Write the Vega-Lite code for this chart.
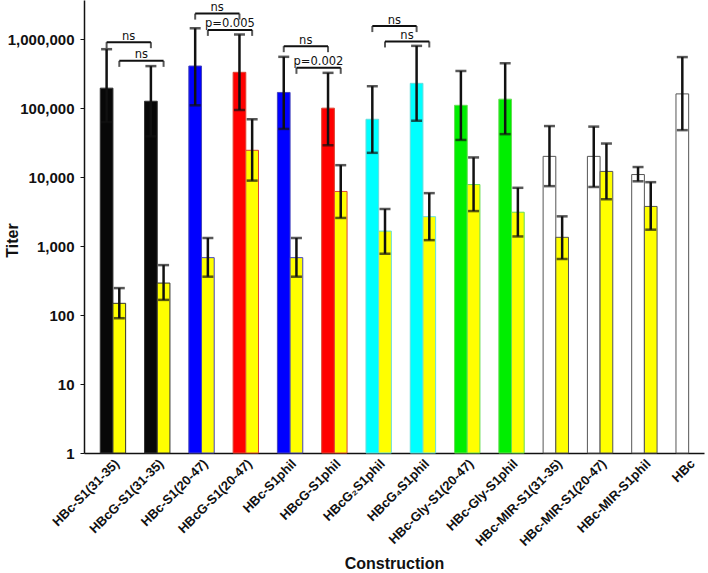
{
  "$schema": "https://vega.github.io/schema/vega-lite/v6.json",
  "width": 620,
  "height": 453,
  "autosize": "none",
  "padding": {"left": 84, "top": 0, "right": 4, "bottom": 120},
  "background": "white",
  "config": {
    "view": {"stroke": null},
    "axis": {"domainColor": "#111", "tickColor": "#111", "labelColor": "#111", "titleColor": "#111", "grid": false},
    "axisY": {
      "titleFont": "Liberation Sans",
      "titleFontSize": 16,
      "titleFontWeight": "bold",
      "titleX": -72,
      "titleY": 240,
      "titleAngle": -90,
      "titleAlign": "center",
      "titleBaseline": "middle",
      "labelFont": "Liberation Sans",
      "labelFontSize": 15,
      "labelFontWeight": "bold",
      "labelPadding": 6,
      "tickSize": 4,
      "domainWidth": 1.5
    }
  },
  "datasets": {
    "titers": [
      {"construction": "HBc-S1(31-35)", "family": "black", "series": "primary", "titer": 195000, "lo": 62700, "hi": 716000},
      {"construction": "HBc-S1(31-35)", "family": "black", "series": "secondary", "titer": 148, "lo": 90, "hi": 246},
      {"construction": "HBcG-S1(31-35)", "family": "black", "series": "primary", "titer": 126000, "lo": 39000, "hi": 407000},
      {"construction": "HBcG-S1(31-35)", "family": "black", "series": "secondary", "titer": 291, "lo": 166, "hi": 530},
      {"construction": "HBc-S1(20-47)", "family": "blue", "series": "primary", "titer": 408000, "lo": 110000, "hi": 1440000},
      {"construction": "HBc-S1(20-47)", "family": "blue", "series": "secondary", "titer": 680, "lo": 360, "hi": 1310},
      {"construction": "HBcG-S1(20-47)", "family": "red", "series": "primary", "titer": 331000, "lo": 94000, "hi": 1170000},
      {"construction": "HBcG-S1(20-47)", "family": "red", "series": "secondary", "titer": 24500, "lo": 8900, "hi": 69000},
      {"construction": "HBc-S1phil", "family": "blue", "series": "primary", "titer": 169000, "lo": 50000, "hi": 555000},
      {"construction": "HBc-S1phil", "family": "blue", "series": "secondary", "titer": 680, "lo": 360, "hi": 1310},
      {"construction": "HBcG-S1phil", "family": "red", "series": "primary", "titer": 100000, "lo": 29000, "hi": 325000},
      {"construction": "HBcG-S1phil", "family": "red", "series": "secondary", "titer": 6200, "lo": 2560, "hi": 14900},
      {"construction": "HBcG₂S1phil", "family": "cyan", "series": "primary", "titer": 69000, "lo": 22500, "hi": 208000},
      {"construction": "HBcG₂S1phil", "family": "cyan", "series": "secondary", "titer": 1650, "lo": 775, "hi": 3450},
      {"construction": "HBcG₄S1phil", "family": "cyan", "series": "primary", "titer": 229000, "lo": 65700, "hi": 800000},
      {"construction": "HBcG₄S1phil", "family": "cyan", "series": "secondary", "titer": 2670, "lo": 1220, "hi": 5860},
      {"construction": "HBc-Gly-S1(20-47)", "family": "green", "series": "primary", "titer": 110000, "lo": 34600, "hi": 346000},
      {"construction": "HBc-Gly-S1(20-47)", "family": "green", "series": "secondary", "titer": 7800, "lo": 3220, "hi": 19300},
      {"construction": "HBc-Gly-S1phil", "family": "green", "series": "primary", "titer": 135000, "lo": 42000, "hi": 448000},
      {"construction": "HBc-Gly-S1phil", "family": "green", "series": "secondary", "titer": 3100, "lo": 1380, "hi": 7000},
      {"construction": "HBc-MIR-S1(31-35)", "family": "white", "series": "primary", "titer": 20000, "lo": 7400, "hi": 55000},
      {"construction": "HBc-MIR-S1(31-35)", "family": "white", "series": "secondary", "titer": 1340, "lo": 650, "hi": 2700},
      {"construction": "HBc-MIR-S1(20-47)", "family": "white", "series": "primary", "titer": 20000, "lo": 7200, "hi": 54000},
      {"construction": "HBc-MIR-S1(20-47)", "family": "white", "series": "secondary", "titer": 12100, "lo": 4780, "hi": 30700},
      {"construction": "HBc-MIR-S1phil", "family": "white", "series": "primary", "titer": 10900, "lo": 8700, "hi": 14000},
      {"construction": "HBc-MIR-S1phil", "family": "white", "series": "secondary", "titer": 3760, "lo": 1730, "hi": 8450},
      {"construction": "HBc", "family": "white", "series": "primary", "titer": 161000, "lo": 48000, "hi": 550000}
    ],
    "brackets": [
      {"pair": 1, "construction": "HBc-S1(31-35)", "series": "primary", "end": "left", "y": 905000, "label": "ns"},
      {"pair": 1, "construction": "HBcG-S1(31-35)", "series": "primary", "end": "right", "y": 905000, "label": "ns"},
      {"pair": 2, "construction": "HBc-S1(31-35)", "series": "secondary", "end": "left", "y": 485000, "label": "ns"},
      {"pair": 2, "construction": "HBcG-S1(31-35)", "series": "secondary", "end": "right", "y": 485000, "label": "ns"},
      {"pair": 3, "construction": "HBc-S1(20-47)", "series": "primary", "end": "left", "y": 2350000, "label": "ns"},
      {"pair": 3, "construction": "HBcG-S1(20-47)", "series": "primary", "end": "right", "y": 2350000, "label": "ns"},
      {"pair": 4, "construction": "HBc-S1(20-47)", "series": "secondary", "end": "left", "y": 1364000, "label": "p=0.005"},
      {"pair": 4, "construction": "HBcG-S1(20-47)", "series": "secondary", "end": "right", "y": 1364000, "label": "p=0.005"},
      {"pair": 5, "construction": "HBc-S1phil", "series": "primary", "end": "left", "y": 792000, "label": "ns"},
      {"pair": 5, "construction": "HBcG-S1phil", "series": "primary", "end": "right", "y": 792000, "label": "ns"},
      {"pair": 6, "construction": "HBc-S1phil", "series": "secondary", "end": "left", "y": 384000, "label": "p=0.002"},
      {"pair": 6, "construction": "HBcG-S1phil", "series": "secondary", "end": "right", "y": 384000, "label": "p=0.002"},
      {"pair": 7, "construction": "HBcG₂S1phil", "series": "primary", "end": "left", "y": 1550000, "label": "ns"},
      {"pair": 7, "construction": "HBcG₄S1phil", "series": "primary", "end": "right", "y": 1550000, "label": "ns"},
      {"pair": 8, "construction": "HBcG₂S1phil", "series": "secondary", "end": "left", "y": 927000, "label": "ns"},
      {"pair": 8, "construction": "HBcG₄S1phil", "series": "secondary", "end": "right", "y": 927000, "label": "ns"}
    ]
  },
  "encoding": {
    "x": {
      "field": "construction",
      "type": "nominal",
      "sort": null,
      "scale": {
        "domain": ["HBc-S1(31-35)", "HBcG-S1(31-35)", "HBc-S1(20-47)", "HBcG-S1(20-47)", "HBc-S1phil", "HBcG-S1phil", "HBcG₂S1phil", "HBcG₄S1phil", "HBc-Gly-S1(20-47)", "HBc-Gly-S1phil", "HBc-MIR-S1(31-35)", "HBc-MIR-S1(20-47)", "HBc-MIR-S1phil", "HBc"],
        "paddingInner": 0.427,
        "paddingOuter": 0.2135,
        "align": 0.86
      },
      "axis": {
        "title": "Construction",
        "titleFont": "Liberation Sans",
        "titleFontSize": 16,
        "titleFontWeight": "bold",
        "titleY": 110,
        "titleBaseline": "middle",
        "labelAngle": -45,
        "labelFont": "Liberation Sans",
        "labelFontSize": 13,
        "labelFontWeight": "bold",
        "labelPadding": 4,
        "labelLimit": 0,
        "ticks": false,
        "domainWidth": 1.5
      }
    },
    "xOffset": {
      "field": "series",
      "type": "nominal",
      "scale": {"domain": ["primary", "secondary"], "paddingInner": 0, "paddingOuter": 0}
    }
  },
  "layer": [
    {
      "data": {"name": "titers"},
      "transform": [{"filter": "datum.series === 'primary'"}],
      "mark": {"type": "bar", "strokeWidth": 1},
      "encoding": {
        "y": {
          "field": "titer",
          "type": "quantitative",
          "scale": {"type": "log", "domain": [1, 3700000], "nice": false},
          "axis": {"values": [1, 10, 100, 1000, 10000, 100000, 1000000], "format": ",", "title": "Titer"}
        },
        "y2": {"datum": 1},
        "fill": {
          "field": "family",
          "type": "nominal",
          "scale": {"domain": ["black", "blue", "red", "cyan", "green", "white"], "range": ["#080808", "#0000ff", "#ff0000", "#00ffff", "#00ee00", "#ffffff"]},
          "legend": null
        },
        "stroke": {
          "field": "family",
          "type": "nominal",
          "scale": {"domain": ["black", "blue", "red", "cyan", "green", "white"], "range": ["#333333", "#4444bb", "#dd4433", "#66dddd", "#66dd55", "#555555"]},
          "legend": null
        }
      }
    },
    {
      "data": {"name": "titers"},
      "transform": [{"filter": "datum.series === 'secondary'"}],
      "mark": {"type": "bar", "fill": "#ffff00", "strokeWidth": 1},
      "encoding": {
        "y": {"field": "titer", "type": "quantitative", "axis": {"values": [1, 10, 100, 1000, 10000, 100000, 1000000], "format": ",", "title": "Titer"}},
        "y2": {"datum": 1},
        "stroke": {"field": "family", "type": "nominal", "legend": null}
      }
    },
    {
      "data": {"name": "titers"},
      "mark": {"type": "rule", "color": "#111111", "strokeWidth": 2.5},
      "encoding": {
        "y": {"field": "lo", "type": "quantitative", "axis": {"values": [1, 10, 100, 1000, 10000, 100000, 1000000], "format": ",", "title": "Titer"}},
        "y2": {"field": "hi"}
      }
    },
    {
      "data": {"name": "titers"},
      "mark": {"type": "tick", "color": "#111111", "size": 11, "thickness": 2.5},
      "encoding": {
        "y": {"field": "lo", "type": "quantitative", "axis": {"values": [1, 10, 100, 1000, 10000, 100000, 1000000], "format": ",", "title": "Titer"}}
      }
    },
    {
      "data": {"name": "titers"},
      "mark": {"type": "tick", "color": "#111111", "size": 11, "thickness": 2.5},
      "encoding": {
        "y": {"field": "hi", "type": "quantitative", "axis": {"values": [1, 10, 100, 1000, 10000, 100000, 1000000], "format": ",", "title": "Titer"}}
      }
    },
    {
      "data": {"name": "brackets"},
      "mark": {"type": "line", "color": "#111111", "strokeWidth": 2},
      "encoding": {
        "y": {"field": "y", "type": "quantitative", "axis": {"values": [1, 10, 100, 1000, 10000, 100000, 1000000], "format": ",", "title": "Titer"}},
        "detail": {"field": "pair", "type": "nominal"}
      }
    },
    {
      "data": {"name": "brackets"},
      "mark": {"type": "tick", "orient": "vertical", "color": "#111111", "size": 6, "thickness": 2, "yOffset": 3},
      "encoding": {
        "y": {"field": "y", "type": "quantitative", "axis": {"values": [1, 10, 100, 1000, 10000, 100000, 1000000], "format": ",", "title": "Titer"}}
      }
    },
    {
      "data": {"name": "brackets"},
      "transform": [{"filter": "datum.end === 'left'"}],
      "mark": {"type": "text", "font": "DejaVu Sans", "fontSize": 11.5, "color": "#111111", "align": "center", "baseline": "alphabetic", "dx": 22, "dy": -2.5},
      "encoding": {
        "y": {"field": "y", "type": "quantitative", "axis": {"values": [1, 10, 100, 1000, 10000, 100000, 1000000], "format": ",", "title": "Titer"}},
        "text": {"field": "label"}
      }
    }
  ]
}
